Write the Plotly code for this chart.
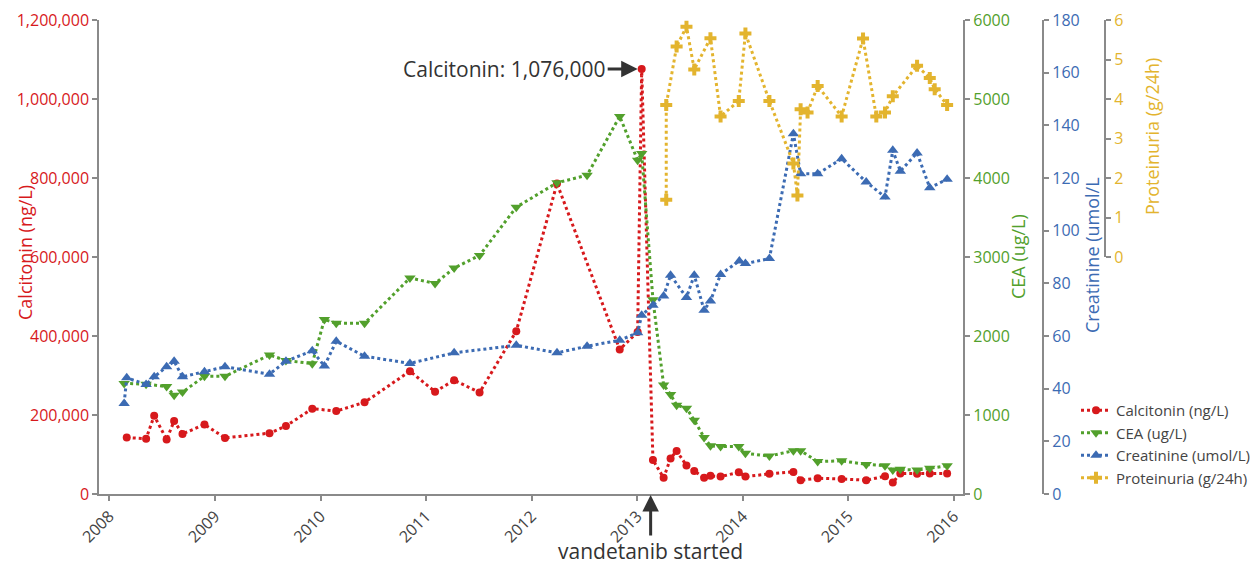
import plotly.graph_objects as go

# ---------------- data ----------------
calc_dates = ["2008-03-01", "2008-05-07", "2008-06-04", "2008-07-17", "2008-08-12", "2008-09-10",
              "2008-11-25", "2009-02-04", "2009-07-08", "2009-09-03", "2009-12-03", "2010-02-24",
              "2010-06-02", "2010-11-06", "2011-02-01", "2011-04-08", "2011-07-05", "2011-11-09",
              "2012-03-29", "2012-11-01", "2013-01-02", "2013-01-16", "2013-02-24", "2013-04-02",
              "2013-04-26", "2013-05-17", "2013-06-20", "2013-07-17", "2013-08-20", "2013-09-11",
              "2013-10-16", "2013-12-18", "2014-01-10", "2014-04-03", "2014-06-25", "2014-07-20",
              "2014-09-17", "2014-12-09", "2015-03-04", "2015-05-08", "2015-06-04", "2015-06-30",
              "2015-08-27", "2015-10-10", "2015-12-09"]
calc_values = [143000, 140000, 198000, 138000, 185000, 152000, 176000, 142000, 154000, 172000,
               216000, 210000, 232000, 311000, 259000, 288000, 257000, 412000, 786000, 366000,
               410000, 1076000, 86000, 41000, 90000, 109000, 72000, 58000, 41000, 46000,
               44000, 55000, 44000, 51000, 56000, 35000, 40000, 38000, 35000, 45000,
               29000, 52000, 51000, 52000, 52000]

cea_dates = ["2008-02-21", "2008-05-07", "2008-07-17", "2008-08-12", "2008-09-10", "2008-11-25",
             "2009-02-04", "2009-07-08", "2009-09-03", "2009-12-03", "2010-01-14", "2010-02-24",
             "2010-06-02", "2010-11-06", "2011-02-01", "2011-04-08", "2011-07-05", "2011-11-09",
             "2012-03-29", "2012-07-11", "2012-11-01", "2013-01-02", "2013-01-16", "2013-02-24",
             "2013-04-02", "2013-04-26", "2013-05-17", "2013-06-20", "2013-07-17", "2013-08-20",
             "2013-09-11", "2013-10-16", "2013-12-18", "2014-01-10", "2014-04-03", "2014-06-25",
             "2014-07-20", "2014-09-17", "2014-12-09", "2015-03-04", "2015-05-08", "2015-06-04",
             "2015-06-30", "2015-08-27", "2015-10-10", "2015-12-09"]
cea_values = [1400, 1390, 1360, 1250, 1290, 1490, 1490, 1760, 1690, 1650, 2210, 2160,
              2160, 2735, 2665, 2860, 3020, 3630, 3940, 4035, 4780, 4225, 4310, 2460,
              1380, 1260, 1125, 1085, 935, 715, 610, 600, 600, 515, 480, 548,
              548, 410, 420, 375, 358, 303, 312, 303, 325, 358]

creat_dates = ["2008-02-21", "2008-03-01", "2008-05-07", "2008-06-04", "2008-07-17", "2008-08-12",
               "2008-09-10", "2008-11-25", "2009-02-04", "2009-07-08", "2009-09-03", "2009-12-03",
               "2010-01-14", "2010-02-24", "2010-06-02", "2010-11-06", "2011-04-08", "2011-11-09",
               "2012-03-29", "2012-07-11", "2012-11-01", "2013-01-02", "2013-01-16", "2013-02-24",
               "2013-04-02", "2013-04-26", "2013-06-20", "2013-07-17", "2013-08-20", "2013-09-11",
               "2013-10-16", "2013-12-20", "2014-01-10", "2014-04-03", "2014-06-25", "2014-07-20",
               "2014-09-17", "2014-12-09", "2015-03-04", "2015-05-08", "2015-06-04", "2015-06-30",
               "2015-08-27", "2015-10-10", "2015-12-09"]
creat_values = [34.4, 44.1, 41.6, 44.5, 48.3, 50.4, 44.5, 46.4, 48.3, 45.5, 50.4, 54.4,
                48.6, 58.0, 52.3, 49.6, 53.6, 56.5, 53.6, 56.1, 58.4, 61.2, 67.9, 71.7,
                75.2, 83.1, 74.6, 83.1, 69.8, 73.3, 83.4, 88.5, 87.5, 89.4, 136.8, 121.6,
                121.6, 127.3, 118.5, 112.8, 130.5, 122.6, 129.5, 116.3, 119.5]

prot_dates = ["2013-04-11", "2013-04-11", "2013-05-17", "2013-06-20", "2013-07-17", "2013-09-11",
              "2013-10-16", "2013-12-18", "2014-01-10", "2014-04-03", "2014-06-25", "2014-07-09",
              "2014-07-20", "2014-08-13", "2014-09-17", "2014-12-09", "2015-02-21", "2015-04-08",
              "2015-05-08", "2015-06-04", "2015-08-27", "2015-10-10", "2015-10-27", "2015-12-09"]
prot_values = [1.45, 3.85, 5.33, 5.83, 4.75, 5.54, 3.56, 3.95, 5.66, 3.95, 2.37, 1.56,
               3.74, 3.66, 4.33, 3.56, 5.53, 3.56, 3.66, 4.07, 4.84, 4.53, 4.25, 3.85]

series_names = ["Calcitonin (ng/L)", "CEA (ug/L)", "Creatinine (umol/L)", "Proteinuria (g/24h)"]
axis_titles = ["Calcitonin (ng/L)", "CEA (ug/L)", "Creatinine (umol/L", "Proteinuria (g/24h)"]

peak_date, peak_value = "2013-01-16", 1076000
start_date = "2013-02-16"

# ---------------- styling ----------------
RED = "#d7191c"
GREEN = "#52a02c"
BLUE = "#3c6bb3"
YELLOW = "#e3b42e"
AX = "#8a8a8a"
TXT = "#333333"

fig = go.Figure()

def add(xs, ys, name, color, symbol, size, yaxis):
    fig.add_trace(go.Scatter(
        x=xs, y=ys, name=name, mode="lines+markers", yaxis=yaxis,
        line=dict(color=color, width=3, dash="dot"),
        marker=dict(symbol=symbol, size=size, color=color, line=dict(width=0)),
        cliponaxis=False,
    ))

add(calc_dates, calc_values, series_names[0], RED, "circle", 8, "y")
add(cea_dates, cea_values, series_names[1], GREEN, "triangle-down", 10, "y2")
add(creat_dates, creat_values, series_names[2], BLUE, "triangle-up", 10, "y3")
add(prot_dates, prot_values, series_names[3], YELLOW, "cross", 10, "y4")

L, R, T, B = 99, 0, 20, 71
W, H = 1250, 565
PW = W - L - R
PH = H - T - B

def px_x(p):
    return (p - L) / PW

def px_y(p):
    return (H - B - p) / PH

axis_common = dict(showline=True, linecolor=AX, linewidth=1.5, ticks="outside", ticklen=5,
                   tickcolor=AX, tickwidth=1.5, showgrid=False, zeroline=False, automargin=False)

fig.update_layout(
    width=W, height=H,
    margin=dict(l=L, r=R, t=T, b=B, autoexpand=False),
    paper_bgcolor="white", plot_bgcolor="rgba(0,0,0,0)",
    font=dict(family='"Open Sans", sans-serif', color="#444"),
    showlegend=True,
    legend=dict(x=px_x(1076), y=0, xanchor="left", yanchor="bottom",
                font=dict(size=15, color="#444"), bgcolor="rgba(0,0,0,0)"),
    xaxis=dict(domain=[0, px_x(963.3)], type="date", range=["2007-11-26", "2016-02-03"],
               dtick="M12", tick0="2008-01-01", tickformat="%Y", tickangle=-45,
               tickfont=dict(size=16, color="#444"), anchor="y", **axis_common),
    yaxis=dict(range=[0, 1200000], dtick=200000, tickformat=",d",
               tickfont=dict(size=16, color=RED), **axis_common),
    yaxis2=dict(range=[0, 6000], dtick=1000, tickformat="d", overlaying="y", side="right",
                anchor="x", tickfont=dict(size=16, color=GREEN), **axis_common),
    yaxis3=dict(range=[0, 180], dtick=20, overlaying="y", side="right", anchor="free",
                position=px_x(1043.3), tickfont=dict(size=16, color=BLUE), **axis_common),
    yaxis4=dict(range=[0, 6], dtick=1, domain=[0.5, 1], side="right", anchor="free",
                position=px_x(1105.3), tickfont=dict(size=16, color=YELLOW), **axis_common),
)

# axis titles as annotations placed like the reference
title_specs = [
    (axis_titles[0], 25, 253, RED),
    (axis_titles[1], 1018, 256, GREEN),
    (axis_titles[2], 1092, 255, BLUE),
    (axis_titles[3], 1152, 137, YELLOW),
]
for text, xp, yp, col in title_specs:
    fig.add_annotation(text=text, xref="paper", yref="paper", x=px_x(xp), y=px_y(yp),
                       showarrow=False, textangle=-90, xanchor="center", yanchor="middle",
                       font=dict(size=18, color=col))

fig.add_annotation(x=peak_date, y=peak_value, xref="x", yref="y",
                   text="Calcitonin: 1,076,000", showarrow=True, ax=-137, ay=0,
                   arrowhead=2, arrowsize=1.1, arrowwidth=3, arrowcolor=TXT, standoff=4,
                   font=dict(size=21, color=TXT))
fig.add_annotation(x=start_date, y=0, xref="x", yref="y",
                   text="vandetanib started", showarrow=True, ax=0, ay=57,
                   arrowhead=2, arrowsize=1.1, arrowwidth=3, arrowcolor=TXT, standoff=1,
                   font=dict(size=21, color=TXT))

fig.write_html("out.html", include_plotlyjs=True, full_html=True,
               config={"displayModeBar": False},
               post_script="document.body.style.margin='0';")
